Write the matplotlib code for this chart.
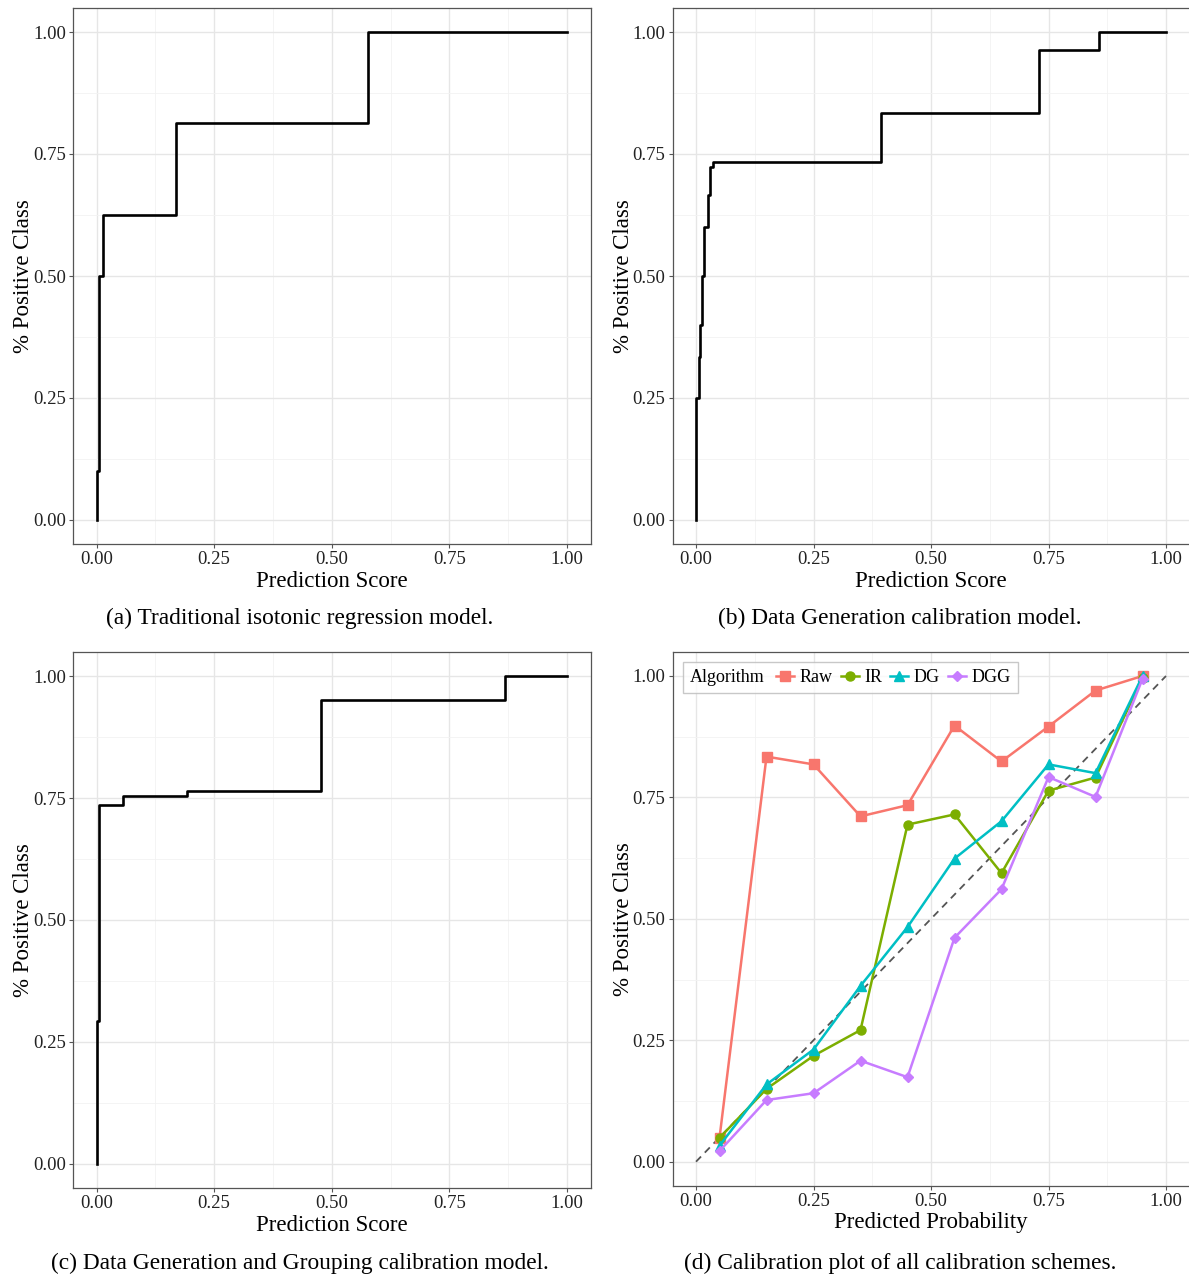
import matplotlib.pyplot as plt
from matplotlib.ticker import MultipleLocator
from matplotlib.offsetbox import HPacker

plt.rcParams['font.family'] = ['Liberation Serif', 'DejaVu Serif']

# (a) traditional isotonic regression: step points (x, y), drawn with where='post'
ir_x = [0.0, 0.0, 0.006, 0.013, 0.168, 0.578, 1.0]
ir_y = [0.0, 0.10, 0.50, 0.625, 0.813, 1.0, 1.0]

# (b) data generation
dg_x = [0.0, 0.0, 0.006, 0.009, 0.012, 0.017, 0.025, 0.030, 0.037, 0.393, 0.730, 0.858, 1.0]
dg_y = [0.0, 0.25, 0.335, 0.40, 0.50, 0.60, 0.667, 0.724, 0.734, 0.833, 0.963, 1.0, 1.0]

# (c) data generation and grouping
dgg_x = [0.0, 0.0, 0.006, 0.057, 0.193, 0.478, 0.868, 1.0]
dgg_y = [0.0, 0.294, 0.736, 0.755, 0.764, 0.951, 1.0, 1.0]

# (d) calibration plot
bins = [0.05, 0.15, 0.25, 0.35, 0.45, 0.55, 0.65, 0.75, 0.85, 0.95]
raw = [0.049, 0.834, 0.818, 0.711, 0.734, 0.898, 0.824, 0.896, 0.970, 1.0]
ir = [0.049, 0.150, 0.218, 0.271, 0.694, 0.715, 0.594, 0.764, 0.791, 0.996]
dg = [0.033, 0.159, 0.231, 0.362, 0.483, 0.624, 0.701, 0.818, 0.800, 1.0]
dgg = [0.022, 0.127, 0.141, 0.208, 0.174, 0.461, 0.561, 0.792, 0.751, 0.994]

captions = ["(a) Traditional isotonic regression model.",
            "(b) Data Generation calibration model.",
            "(c) Data Generation and Grouping calibration model.",
            "(d) Calibration plot of all calibration schemes."]

W, H = 1189, 1278
fig = plt.figure(figsize=(W / 100, H / 100), dpi=100)

def px_axes(left, top, right, bottom):
    return fig.add_axes([left / W, 1 - bottom / H, (right - left) / W, (bottom - top) / H])

def style(ax, xlabel):
    ax.set_xlim(-0.05, 1.05)
    ax.set_ylim(-0.05, 1.05)
    ax.set_xticks([0, 0.25, 0.5, 0.75, 1.0])
    ax.set_yticks([0, 0.25, 0.5, 0.75, 1.0])
    ax.set_xticklabels(["0.00", "0.25", "0.50", "0.75", "1.00"])
    ax.set_yticklabels(["0.00", "0.25", "0.50", "0.75", "1.00"])
    ax.xaxis.set_minor_locator(MultipleLocator(0.125))
    ax.yaxis.set_minor_locator(MultipleLocator(0.125))
    ax.grid(True, which='major', color='#e6e6e6', linewidth=1.0)
    ax.grid(True, which='minor', color='#f2f2f2', linewidth=0.6)
    ax.set_axisbelow(True)
    ax.tick_params(which='major', length=3, color='#555555', labelsize=13.5,
                   labelcolor='#222222', pad=2)
    ax.tick_params(which='minor', length=0)
    for s in ax.spines.values():
        s.set_color('#555555')
        s.set_linewidth(0.9)
    ax.set_xlabel(xlabel, fontsize=16.5)
    ax.set_ylabel("% Positive Class", fontsize=16.5)
    ax.xaxis.set_label_coords(0.5, -0.049)
    ax.yaxis.set_label_coords(-0.075, 0.5)

ax_a = px_axes(73, 7.6, 590.5, 544.4)
ax_b = px_axes(672.5, 7.6, 1189.5, 544.4)
ax_c = px_axes(73, 651.6, 590.5, 1188.4)
ax_d = px_axes(672.5, 651.7, 1189.5, 1186)

for ax, xs, ys in [(ax_a, ir_x, ir_y), (ax_b, dg_x, dg_y), (ax_c, dgg_x, dgg_y)]:
    ax.step(xs, ys, where='post', color='black', linewidth=1.9)
    style(ax, "Prediction Score")

# calibration plot
ax_d.plot([0, 1], [0, 1], linestyle=(0, (4, 3)), color='#555555', linewidth=1.3)
series = [("Raw", raw, '#F8766D', 's'), ("IR", ir, '#7CAE00', 'o'),
          ("DG", dg, '#00BFC4', '^'), ("DGG", dgg, '#C77CFF', 'D')]
for name, vals, col, mk in series:
    ax_d.plot(bins, vals, color=col, marker=mk, markersize=6.5 if mk != 'D' else 5.5,
              linewidth=1.8, label=name)
style(ax_d, "Predicted Probability")

leg = ax_d.legend(title="Algorithm", ncol=4, loc='upper left', bbox_to_anchor=(0.02, 0.981),
                  borderaxespad=0, fontsize=13, title_fontsize=13, frameon=True,
                  fancybox=False, edgecolor='#bbbbbb', handlelength=1.0,
                  handletextpad=0.3, columnspacing=0.45, borderpad=0.4)
leg.get_frame().set_linewidth(1.0)
# put the legend title to the left of the keys, like ggplot
old = leg._legend_box
new = HPacker(pad=old.pad, sep=8, align='center', children=old.get_children())
new.set_figure(fig)
new.axes = ax_d
new.set_offset(leg._findoffset)
leg._legend_box = new

cap_pos = [(300, 618), (900, 618), (300, 1263), (900, 1263)]
for (cx, cy), txt in zip(cap_pos, captions):
    fig.text(cx / W, 1 - cy / H, txt, ha='center', va='center', fontsize=16.8)

fig.savefig("out.png", dpi=100)
